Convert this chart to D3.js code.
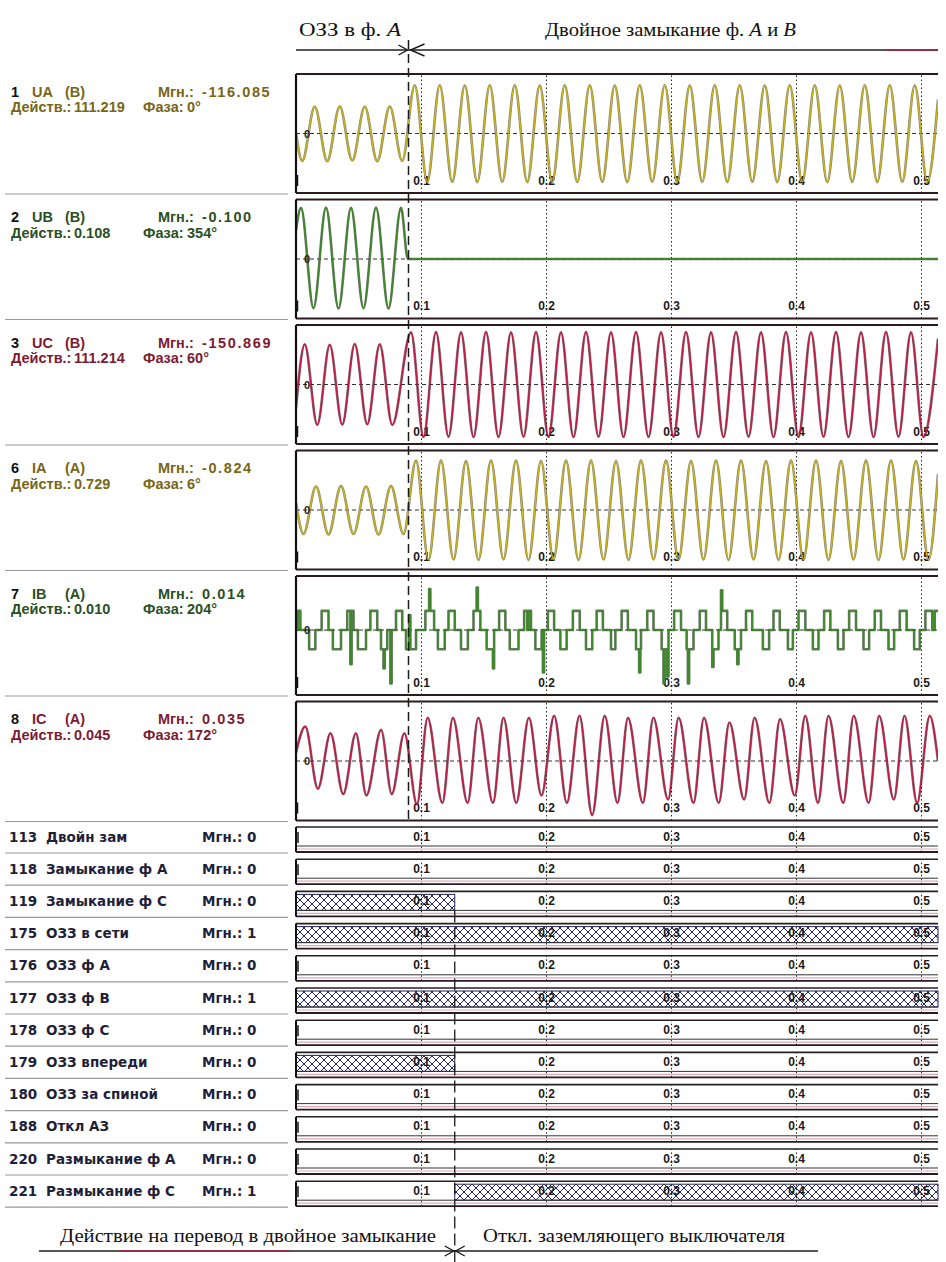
<!DOCTYPE html>
<html lang="ru">
<head>
<meta charset="utf-8">
<title>Осциллограмма</title>
<script src="https://cdn.jsdelivr.net/npm/d3@7/dist/d3.min.js"></script>
<style>
  html, body { margin: 0; padding: 0; background: #fff; }
  svg { display: block; }
</style>
</head>
<body>
<svg id="osc" width="946" height="1262"></svg>
<script>
// ---------- time base, ms ----------
const tEnd = 513.6;
const tDouble = 90;     // double earth fault begins
const tSwitch = 127;    // earthing switch opened
const tickMs = [100, 200, 300, 400, 500];
const tickLabels = ["0.1", "0.2", "0.3", "0.4", "0.5"];

// ---------- analog channel captions ----------
const anNum   = ["1", "2", "3", "6", "7", "8"];
const anName  = ["UA", "UB", "UC", "IA", "IB", "IC"];
const anUnit  = ["(В)", "(В)", "(В)", "(А)", "(А)", "(А)"];
const anInst  = ["-116.085", "-0.100", "-150.869", "-0.824", "0.014", "0.035"];
const anRms   = ["111.219", "0.108", "111.214", "0.729", "0.010", "0.045"];
const anPhase = ["0°", "354°", "60°", "6°", "204°", "172°"];
const anRange = [[-187, 187], [-180, 180], [-172, 172], [-1.2, 1.2], [-0.046, 0.038], [-0.085, 0.085]];

// ---------- analog samples: [ms, value] at the extrema of each half-cycle ----------
const uaPts = [[0,0],[5,-89],[15,87],[25,-90],[35,88],[45,-88],[55,87],[65,-90],[75,88],[85,-89],
  [95,157],[105,-158],[115,157],[125,-157],[135,156],[145,-158],[155,157],[165,-157],[175,157],[185,-158],
  [195,156],[205,-157],[215,157],[225,-158],[235,157],[245,-157],[255,156],[265,-158],[275,157],[285,-157],
  [295,157],[305,-158],[315,156],[325,-157],[335,157],[345,-158],[355,157],[365,-157],[375,156],[385,-158],
  [395,157],[405,-157],[415,157],[425,-158],[435,156],[445,-157],[455,157],[465,-158],[475,157],[485,-157],
  [495,156],[505,-158],[513.6,110]];

const ubPts = [[0,90],[4,160],[14,-154],[24,161],[34,-155],[44,160],[54,-154],[64,161],[74,-155],[84,160],
  [89.5,0],[513.6,0]];

const ucPts = [[0,-70],[7,120],[17,-121],[27,119],[37,-120],[47,121],[57,-119],[67,120],[77,-121],
  [92,156],[102,-157],[112,157],[122,-156],[132,156],[142,-157],[152,157],[162,-157],[172,156],[182,-156],
  [192,157],[202,-157],[212,156],[222,-157],[232,157],[242,-156],[252,156],[262,-157],[272,157],[282,-157],
  [292,156],[302,-156],[312,157],[322,-157],[332,156],[342,-157],[352,157],[362,-156],[372,156],[382,-157],
  [392,157],[402,-157],[412,156],[422,-156],[432,157],[442,-157],[452,156],[462,-157],[472,157],[482,-156],
  [492,156],[502,-157],[513.6,137]];

const iaPts = [[0,0.15],[6,-0.5],[16,0.49],[26,-0.51],[36,0.5],[46,-0.5],[56,0.49],[66,-0.51],[76,0.5],[86,-0.5],
  [96,1.03],[106,-1.04],[116,1.03],[126,-1.03],[136,1.02],[146,-1.04],[156,1.03],[166,-1.03],[176,1.03],[186,-1.04],
  [196,1.02],[206,-1.03],[216,1.03],[226,-1.04],[236,1.03],[246,-1.03],[256,1.02],[266,-1.04],[276,1.03],[286,-1.03],
  [296,1.03],[306,-1.04],[316,1.02],[326,-1.03],[336,1.03],[346,-1.04],[356,1.03],[366,-1.03],[376,1.02],[386,-1.04],
  [396,1.03],[406,-1.03],[416,1.03],[426,-1.04],[436,1.02],[446,-1.03],[456,1.03],[466,-1.04],[476,1.03],[486,-1.03],
  [496,1.02],[506,-1.04],[513.6,0.75]];

// IB is quantised: level changes [ms, A]
const ibSteps = [[0,0],[1.5,0.014],[3.5,0],[10.5,-0.014],[15.5,0],[20.5,0.014],[26,0],[29.5,-0.014],[36,0],
  [41,0.014],[43.5,-0.025],[44.5,0.014],[46,0],[49.5,-0.014],[56,0],[59.5,0.014],[65,0],[68,-0.014],[70,-0.028],
  [71,-0.014],[73,0],[75.5,-0.039],[76.5,0],[80,0.014],[85,0],[88,-0.014],[90.5,0.011],[91.5,-0.014],[96,0],
  [103.5,0.014],[106.5,0.03],[107.5,0.014],[110.5,0],[113.5,-0.014],[119,0],[122,0.014],[127,0],[132,-0.014],[137.5,0],
  [142,0.014],[144.5,0.031],[145.5,0.014],[147.5,0],[152.5,-0.014],[157.5,-0.028],[158.5,0],[162.5,0.014],[167.5,0],
  [171,-0.014],[178,0],[182.5,0.014],[185,0],[186,0.014],[188,0],[191.5,-0.014],[196.5,0],[197.5,-0.031],[198.5,0],
  [201.5,0.014],[206.5,0],[211.5,-0.014],[216.5,0],[221.5,0.014],[227,0],[232,-0.014],[237,0],[240.5,0.014],[245.5,0],
  [252,-0.014],[255.5,0],[260.5,0.014],[265.5,0],[272,-0.014],[274.5,-0.031],[275.5,-0.014],[276,0],[281,0.014],[286,0],
  [292.5,-0.014],[294,-0.039],[295,-0.014],[297,-0.034],[298,0],[302.5,0.014],[308,0],[312.5,-0.014],[313.5,-0.039],
  [314.5,-0.014],[318,0],[323,0.014],[328,0],[333,-0.027],[334,-0.014],[338,0],[340,0.029],[341,0.014],[345,0],
  [351,-0.014],[353,-0.025],[354,-0.014],[356,0],[360,0.014],[365,0],[373.5,-0.014],[378.5,0],[382,0.014],[387,0],
  [393.5,-0.014],[397.5,0],[402,0.014],[407.5,0],[413.5,-0.014],[418,0],[422.5,0.014],[427.5,0],[433.5,-0.014],[438,0],
  [442.5,0.014],[448,0],[454,-0.014],[458.5,0],[463,0.014],[468,0],[474,-0.014],[478.5,0],[483,0.014],[488.5,0],
  [494.5,-0.014],[499,0],[503.5,0.014],[509,0],[511,0.014],[513.6,0.014]];

const icPts = [[0,0.012],[7.4,0.051],[17.5,-0.041],[27.6,0.041],[37.8,-0.049],[47.9,0.041],[56.3,-0.051],[68.1,0.046],
  [76.6,-0.049],[86.7,0.041],[96.8,-0.064],[105.3,0.064],[117.1,-0.062],[125.5,0.064],[137.3,-0.062],[145.8,0.064],
  [157.6,-0.062],[166,0.064],[176.2,-0.062],[186.3,0.064],[196.4,-0.051],[206.5,0.067],[216.7,-0.062],[226.8,0.067],
  [236.9,-0.08],[247,0.067],[257.2,-0.062],[265.6,0.064],[277.5,-0.062],[285.9,0.064],[297.7,-0.057],[306.1,0.064],
  [318,-0.062],[326.4,0.064],[338.2,-0.062],[346.7,0.057],[358.5,-0.057],[366.9,0.064],[378.7,-0.062],[387.2,0.062],
  [399,-0.051],[407.4,0.067],[417.6,-0.062],[426,0.067],[437.8,-0.062],[446.2,0.067],[458.1,-0.062],[466.5,0.067],
  [478.3,-0.057],[486.8,0.067],[496.9,-0.062],[507,0.067],[513.6,0]];

const anSeries = [uaPts, ubPts, ucPts, iaPts, ibSteps, icPts];

// ---------- discrete channels ----------
const digNum  = ["113", "118", "119", "175", "176", "177", "178", "179", "180", "188", "220", "221"];
const digName = ["Двойн зам", "Замыкание ф А", "Замыкание ф С", "ОЗЗ в сети", "ОЗЗ ф А", "ОЗЗ ф В",
                 "ОЗЗ ф С", "ОЗЗ впереди", "ОЗЗ за спиной", "Откл АЗ", "Размыкание ф А", "Размыкание ф С"];
const digInst = [0, 0, 0, 1, 0, 1, 0, 0, 0, 0, 0, 1];
// intervals [from, to] in ms where the signal is 1
const digOn = [[], [], [[0, 127]], [[0, tEnd]], [], [[0, tEnd]], [], [[0, 127]], [], [], [], [[127, tEnd]]];

// ---------- styling ----------
const phaseStyle = {
  yellow: { line: "#c9b61a", under: "#4f4620", text: "#776616" },
  green:  { line: "#3b8a26", under: "#14330e", text: "#2b4f22" },
  red:    { line: "#c31a45", under: "#4a0e1c", text: "#7c1b31" }
};
const anStyle = [phaseStyle.yellow, phaseStyle.green, phaseStyle.red, phaseStyle.yellow, phaseStyle.green, phaseStyle.red];

const sans = "'Liberation Sans', Arial, sans-serif";
const serif = "'Liberation Serif', 'Times New Roman', serif";
const X0 = 296, X1 = 938;
const panelTop0 = 74, panelPitch = 125.5, panelH = 119;
const rowTop0 = 827, rowPitch = 32.2, rowH = 25;

const svg = d3.select("#osc");
const x = d3.scaleLinear().domain([0, tEnd]).range([X0, X1]);

const defs = svg.append("defs");
const hatch = defs.append("pattern").attr("id", "hatch")
  .attr("patternUnits", "userSpaceOnUse").attr("width", 8).attr("height", 8);
hatch.append("rect").attr("width", 8).attr("height", 8).attr("fill", "#fff");
hatch.append("path").attr("d", "M0,0L8,8M8,0L0,8").attr("stroke", "#25255e").attr("stroke-width", 1);

function styleAxis(ax) {
  ax.select(".domain").remove();
  ax.attr("font-family", sans).attr("font-size", 12).attr("font-weight", "bold");
  ax.selectAll(".tick line").attr("stroke", "#222").attr("stroke-width", 1).attr("stroke-dasharray", "1.5,2.5");
  ax.selectAll(".tick text").attr("fill", "#1a1a1a");
}

// ---------- analog panels ----------
anSeries.forEach((pts, i) => {
  const top = panelTop0 + i * panelPitch, bot = top + panelH;
  const st = anStyle[i];
  const y = d3.scaleLinear().domain(anRange[i]).range([bot - 2, top + 2]);
  const g = svg.append("g");

  defs.append("clipPath").attr("id", "clip" + i)
    .append("rect").attr("x", X0).attr("y", top).attr("width", X1 - X0).attr("height", panelH);

  // zero line
  g.append("line").attr("x1", X0).attr("x2", X1).attr("y1", y(0)).attr("y2", y(0))
    .attr("stroke", "#333").attr("stroke-width", 1).attr("stroke-dasharray", "4,3");

  // time grid + labels
  const ax = g.append("g").attr("transform", `translate(0,${bot})`)
    .call(d3.axisBottom(x).tickValues(tickMs).tickFormat((d, k) => tickLabels[k])
      .tickSize(-panelH).tickPadding(-17));
  styleAxis(ax);

  // waveform
  const line = d3.line().x(d => x(d[0])).y(d => y(d[1]))
    .curve(i === 4 ? d3.curveStepAfter : d3.curveMonotoneX);
  const wg = g.append("g").attr("clip-path", `url(#clip${i})`);
  wg.append("path").attr("d", line(pts)).attr("fill", "none")
    .attr("stroke", st.under).attr("stroke-width", 2.6).attr("stroke-opacity", 0.65).attr("stroke-linejoin", "round");
  wg.append("path").attr("d", line(pts)).attr("fill", "none")
    .attr("stroke", st.line).attr("stroke-width", 1.3).attr("stroke-linejoin", "round");

  // zero mark
  g.append("text").attr("x", 307).attr("y", y(0) + 4).attr("text-anchor", "middle")
    .attr("font-family", sans).attr("font-size", 11).attr("font-weight", "bold").attr("fill", "#222").text("0");

  // frame
  g.append("line").attr("x1", X0).attr("x2", X1).attr("y1", top).attr("y2", top)
    .attr("stroke", "#2d1a1f").attr("stroke-width", 2);
  g.append("line").attr("x1", X0).attr("x2", X1).attr("y1", bot).attr("y2", bot)
    .attr("stroke", "#2d1a1f").attr("stroke-width", 2);
  g.append("line").attr("x1", X0).attr("x2", X0).attr("y1", top).attr("y2", bot)
    .attr("stroke", "#111").attr("stroke-width", 2.2);
  g.append("line").attr("x1", X0 + 1.5).attr("x2", X0 + 1.5).attr("y1", bot - 18).attr("y2", bot - 7)
    .attr("stroke", "#111").attr("stroke-width", 1.5);

  // captions
  const t1 = g.append("text").attr("y", top + 22.5).attr("font-family", sans).attr("font-size", 14.5).attr("font-weight", "bold");
  t1.append("tspan").attr("x", 11).attr("fill", "#111").text(anNum[i]);
  t1.append("tspan").attr("x", 32).attr("fill", st.text).text(anName[i]);
  t1.append("tspan").attr("x", 65).attr("fill", st.text).text(anUnit[i]);
  t1.append("tspan").attr("x", 158).attr("fill", st.text).text("Мгн.:");
  t1.append("tspan").attr("x", 202).attr("fill", st.text).attr("letter-spacing", 1.6).text(anInst[i]);
  const t2 = g.append("text").attr("y", top + 38).attr("font-family", sans).attr("font-size", 14.5).attr("font-weight", "bold").attr("fill", st.text);
  t2.append("tspan").attr("x", 11).text("Действ.:");
  t2.append("tspan").attr("x", 74).text(anRms[i]);
  t2.append("tspan").attr("x", 143).text("Фаза:");
  t2.append("tspan").attr("x", 187).text(anPhase[i]);

  g.append("line").attr("x1", 5).attr("x2", 288).attr("y1", bot + 1).attr("y2", bot + 1)
    .attr("stroke", "#9a9a9a").attr("stroke-width", 1.2);
});

// ---------- discrete rows ----------
digName.forEach((name, j) => {
  const T = rowTop0 + j * rowPitch;
  const g = svg.append("g");

  digOn[j].forEach(([a, b]) => {
    g.append("rect").attr("x", x(a)).attr("y", T + 3).attr("width", x(b) - x(a)).attr("height", 16)
      .attr("fill", "url(#hatch)").attr("stroke", "#25255e").attr("stroke-width", 1);
  });

  const ax = g.append("g").attr("transform", `translate(0,${T + rowH})`)
    .call(d3.axisBottom(x).tickValues(tickMs).tickFormat((d, k) => tickLabels[k])
      .tickSize(-rowH).tickPadding(-20));
  styleAxis(ax);

  g.append("line").attr("x1", X0).attr("x2", X1).attr("y1", T).attr("y2", T).attr("stroke", "#222").attr("stroke-width", 1.6);
  g.append("line").attr("x1", X0).attr("x2", X1).attr("y1", T + 19).attr("y2", T + 19).attr("stroke", "#333").attr("stroke-width", 1);
  g.append("line").attr("x1", X0).attr("x2", X1).attr("y1", T + 22).attr("y2", T + 22).attr("stroke", "#dba7b8").attr("stroke-width", 1.2);
  g.append("line").attr("x1", X0).attr("x2", X1).attr("y1", T + rowH).attr("y2", T + rowH).attr("stroke", "#2a1a20").attr("stroke-width", 1.8);
  g.append("line").attr("x1", X0).attr("x2", X0).attr("y1", T).attr("y2", T + rowH).attr("stroke", "#111").attr("stroke-width", 2);
  if (!digOn[j].length || digOn[j][0][0] > 0) {
    g.append("line").attr("x1", X0 + 2).attr("x2", X0 + 2).attr("y1", T + 5).attr("y2", T + 16)
      .attr("stroke", "#111").attr("stroke-width", 1.5);
  }

  const lt = g.append("text").attr("y", T + 14.5).attr("font-family", "'DejaVu Sans', sans-serif")
    .attr("font-size", 13.5).attr("font-weight", "bold").attr("fill", "#1f1f3a");
  lt.append("tspan").attr("x", 9).text(digNum[j]);
  lt.append("tspan").attr("x", 46).text(name);
  lt.append("tspan").attr("x", 202).text("Мгн.: " + digInst[j]);

  g.append("line").attr("x1", 5).attr("x2", 288).attr("y1", T + 26).attr("y2", T + 26)
    .attr("stroke", "#9a9a9a").attr("stroke-width", 1.2);
});

// ---------- event markers ----------
const xa = x(tDouble), xb = x(tSwitch);
svg.append("line").attr("x1", xa).attr("x2", xa).attr("y1", 40).attr("y2", panelTop0 + 5 * panelPitch + panelH)
  .attr("stroke", "#1a1a1a").attr("stroke-width", 1.5).attr("stroke-dasharray", "9,5");
svg.append("line").attr("x1", xb).attr("x2", xb).attr("y1", rowTop0 + 2 * rowPitch + 19).attr("y2", 1262)
  .attr("stroke", "#1a1a1a").attr("stroke-width", 1.3).attr("stroke-dasharray", "12,5");

function chevron(tipX, tipY, dir, len, half) {
  svg.append("path")
    .attr("d", `M${tipX - dir * len},${tipY - half}L${tipX},${tipY}L${tipX - dir * len},${tipY + half}`)
    .attr("fill", "none").attr("stroke", "#1a1a1a").attr("stroke-width", 1.4);
}

// top annotation
const topY = 50;
svg.append("line").attr("x1", X0).attr("x2", X1).attr("y1", topY).attr("y2", topY).attr("stroke", "#1e1e1e").attr("stroke-width", 1.5);
svg.append("line").attr("x1", 885).attr("x2", X1).attr("y1", topY).attr("y2", topY).attr("stroke", "#b02040").attr("stroke-width", 1.5);
chevron(xa - 1, topY, 1, 9, 5);
chevron(xa + 2, topY, -1, 14, 6);
const h1 = svg.append("text").attr("x", 299).attr("y", 36).attr("font-family", serif).attr("font-size", 18)
  .attr("fill", "#111").attr("textLength", 102).attr("lengthAdjust", "spacingAndGlyphs");
h1.append("tspan").text("ОЗЗ в ф. ");
h1.append("tspan").attr("font-style", "italic").text("А");
const h2 = svg.append("text").attr("x", 545).attr("y", 36).attr("font-family", serif).attr("font-size", 18)
  .attr("fill", "#111").attr("textLength", 251).attr("lengthAdjust", "spacingAndGlyphs");
h2.append("tspan").text("Двойное замыкание ф. ");
h2.append("tspan").attr("font-style", "italic").text("А");
h2.append("tspan").text(" и ");
h2.append("tspan").attr("font-style", "italic").text("В");

// bottom annotation
const botY = 1251;
svg.append("line").attr("x1", 39).attr("x2", 818).attr("y1", botY).attr("y2", botY).attr("stroke", "#1e1e1e").attr("stroke-width", 1.5);
svg.append("line").attr("x1", 120).attr("x2", 290).attr("y1", botY).attr("y2", botY).attr("stroke", "#b02040").attr("stroke-width", 1.5);
chevron(xb - 1, botY, 1, 9, 5);
chevron(xb + 1, botY, -1, 9, 5);
svg.append("text").attr("x", 60).attr("y", 1242).attr("font-family", serif).attr("font-size", 18)
  .attr("fill", "#111").attr("textLength", 376).attr("lengthAdjust", "spacingAndGlyphs")
  .text("Действие на перевод в двойное замыкание");
svg.append("text").attr("x", 483).attr("y", 1242).attr("font-family", serif).attr("font-size", 18)
  .attr("fill", "#111").attr("textLength", 302).attr("lengthAdjust", "spacingAndGlyphs")
  .text("Откл. заземляющего выключателя");
</script>
</body>
</html>
